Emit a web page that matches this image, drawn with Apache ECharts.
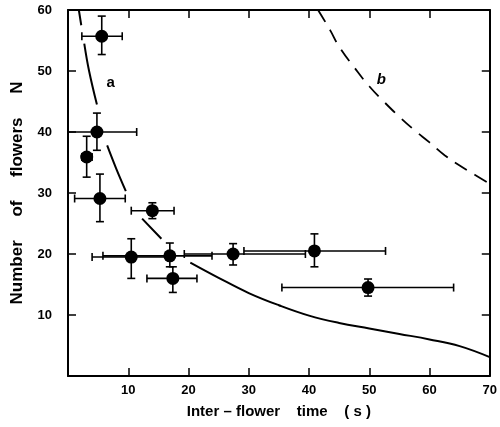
<!DOCTYPE html>
<html><head><meta charset="utf-8">
<script src="https://cdn.jsdelivr.net/npm/echarts@6/dist/echarts.min.js"></script>
<style>html,body{margin:0;padding:0;background:#fff}#c{width:500px;height:427px}</style>
</head><body><div id="c"></div>
<script>
// ---- data ----
const xTicks = [0, 10, 20, 30, 40, 50, 60, 70];
const yTicks = [0, 10, 20, 30, 40, 50, 60];
const ptX   = [5.6, 4.8, 3.1, 5.3, 14.0, 10.5, 16.9, 27.4, 40.9, 49.8, 17.4];
const ptY   = [55.7, 40.0, 35.9, 29.1, 27.1, 19.5, 19.7, 20.0, 20.5, 14.5, 16.0];
const xLow  = [2.3, 0.0, 2.3, 1.1, 10.5, 4.0, 5.8, 19.3, 29.2, 35.5, 13.1];
const xHigh = [9.0, 11.4, 4.0, 9.5, 17.6, 16.8, 23.9, 39.4, 52.7, 64.0, 21.4];
const yLow  = [52.7, 37.0, 32.6, 25.3, 25.8, 16.0, 17.9, 18.2, 17.9, 13.1, 13.7];
const yHigh = [59.0, 43.1, 39.3, 33.1, 28.4, 22.5, 21.8, 21.7, 23.3, 15.9, 17.9];
// curve a (solid, with gaps = null)
const curveAX = [1.8, 2.2, null, 2.7, 3.5, 4.8, null, 6.5, 8.0, 9.6, null, 12.3, 15.5, null, 20.3, 25, 30, 35, 40, 45, 50, 55, 60, 65, 70];
const curveAY = [60, 57.5, null, 54.5, 50, 44.5, null, 37.8, 34, 30.3, null, 25.8, 22.5, null, 18.6, 16.1, 13.6, 11.6, 9.9, 8.7, 7.8, 6.9, 6.0, 4.9, 3.1];
// curve b (dashed)
const curveBX = [41.5, 43.5, 45, 47.5, 50, 52.5, 55, 57.5, 60, 62.5, 65, 67.5, 70];
const curveBY = [60, 56.7, 54, 50.6, 47.5, 44.9, 42.5, 40.3, 38.3, 36.2, 34.5, 33, 31.5];
const curveLabels = ['a', 'b'];
const labelX = [7.1, 52.0];
const labelY = [48.1, 48.6];
const xTitle = 'Inter – flower    time    ( s )';
const yTitle = 'Number     of     flowers     N';

// ---- chart ----
const FONT = '"Liberation Sans", Arial, sans-serif';
const chart = echarts.init(document.getElementById('c'));
const errData = ptX.map((x, i) => [x, ptY[i], xLow[i], xHigh[i], yLow[i], yHigh[i]]);
const curveA = curveAX.map((x, i) => x === null ? ['-', '-'] : [x, curveAY[i]]);
const curveB = curveBX.map((x, i) => [x, curveBY[i]]);
const pts = ptX.map((x, i) => [x, ptY[i]]);
const labs = curveLabels.map((t, i) => ({ value: [labelX[i], labelY[i]], name: t,
  label: { fontStyle: i === 1 ? 'italic' : 'normal' } }));

const axisCommon = {
  type: 'value', min: 0, max: 70, interval: 10,
  axisLine: { show: true, onZero: false, lineStyle: { color: '#000', width: 2 } },
  axisTick: { show: true, inside: true, length: 8, lineStyle: { color: '#000', width: 1.5 } },
  splitLine: { show: false }
};
const fmtX = v => (v === 0 || xTicks.indexOf(v) < 0) ? '' : String(v);
const fmtY = v => (v === 0 || yTicks.indexOf(v) < 0) ? '' : String(v);

chart.setOption({
  animation: false,
  backgroundColor: '#fff',
  grid: { left: 68, right: 8, top: 10, bottom: 51 },
  xAxis: [
    Object.assign({}, axisCommon, {
      position: 'bottom',
      axisLabel: { formatter: fmtX, color: '#000', fontFamily: FONT, fontWeight: 'bold', fontSize: 13, margin: 8 },
      name: xTitle, nameLocation: 'middle', nameGap: 28,
      nameTextStyle: { color: '#000', fontFamily: FONT, fontWeight: 'bold', fontSize: 15 }
    }),
    Object.assign({}, axisCommon, { position: 'top', axisLabel: { show: false } })
  ],
  yAxis: [
    Object.assign({}, axisCommon, {
      min: 0, max: 60, position: 'left',
      axisLabel: { formatter: fmtY, color: '#000', fontFamily: FONT, fontWeight: 'bold', fontSize: 13, margin: 16 },
      name: yTitle, nameLocation: 'middle', nameGap: 42, nameRotate: 90,
      nameTextStyle: { color: '#000', fontFamily: FONT, fontWeight: 'bold', fontSize: 17 }
    }),
    Object.assign({}, axisCommon, { min: 0, max: 60, position: 'right', axisLabel: { show: false } })
  ],
  series: [
    {
      type: 'line', data: curveA, showSymbol: false, symbol: 'none', connectNulls: false, smooth: 0.4,
      lineStyle: { color: '#000', width: 2 }, clip: true, z: 2
    },
    {
      type: 'line', data: curveB, showSymbol: false, symbol: 'none', smooth: true,
      lineStyle: { color: '#000', width: 1.8, type: [14, 9] }, clip: true, z: 2
    },
    {
      type: 'custom', data: errData, z: 3,
      renderItem: function (params, api) {
        const c = api.coord([api.value(0), api.value(1)]);
        const xl = api.coord([api.value(2), api.value(1)]);
        const xh = api.coord([api.value(3), api.value(1)]);
        const yl = api.coord([api.value(0), api.value(4)]);
        const yh = api.coord([api.value(0), api.value(5)]);
        const cap = 4;
        const st = { stroke: '#000', lineWidth: 1.6 };
        return { type: 'group', children: [
          { type: 'line', shape: { x1: xl[0], y1: c[1], x2: xh[0], y2: c[1] }, style: st },
          { type: 'line', shape: { x1: xl[0], y1: c[1] - cap, x2: xl[0], y2: c[1] + cap }, style: st },
          { type: 'line', shape: { x1: xh[0], y1: c[1] - cap, x2: xh[0], y2: c[1] + cap }, style: st },
          { type: 'line', shape: { x1: c[0], y1: yl[1], x2: c[0], y2: yh[1] }, style: st },
          { type: 'line', shape: { x1: c[0] - cap, y1: yl[1], x2: c[0] + cap, y2: yl[1] }, style: st },
          { type: 'line', shape: { x1: c[0] - cap, y1: yh[1], x2: c[0] + cap, y2: yh[1] }, style: st }
        ]};
      }
    },
    {
      type: 'scatter', data: pts, symbol: 'circle', symbolSize: 13,
      itemStyle: { color: '#000', opacity: 1 }, z: 4
    },
    {
      type: 'scatter', data: labs, symbolSize: 1, itemStyle: { color: '#fff', opacity: 1 }, z: 5,
      label: { show: true, position: 'inside', formatter: '{b}', color: '#000', opacity: 1,
        textBorderWidth: 0, fontFamily: FONT, fontWeight: 'bold', fontSize: 15 }
    }
  ]
});
</script></body></html>
